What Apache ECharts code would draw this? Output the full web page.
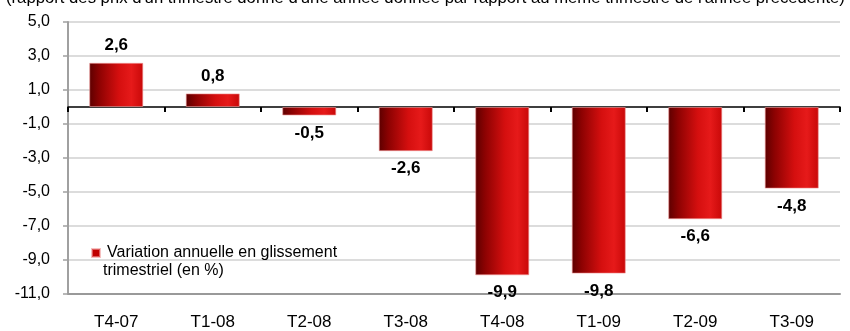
<!DOCTYPE html>
<html>
<head>
<meta charset="utf-8">
<script src="https://cdn.jsdelivr.net/npm/echarts@6/dist/echarts.min.js"></script>
<style>
  html, body { margin: 0; padding: 0; background: #fff; }
  #chart { width: 850px; height: 331px; }
</style>
</head>
<body>
<div id="chart"></div>
<script>
// Quarters and year-on-year price change (%)
const quarters = ['T4-07', 'T1-08', 'T2-08', 'T3-08', 'T4-08', 'T1-09', 'T2-09', 'T3-09'];
const variation = [2.6, 0.8, -0.5, -2.6, -9.9, -9.8, -6.6, -4.8];
const yTicks = [-11, -9, -7, -5, -3, -1, 1, 3, 5];
const seriesName = 'Variation annuelle en glissement trimestriel (en %)';
const legendLine1 = 'Variation annuelle en glissement';
const legendLine2 = 'trimestriel (en %)';
const subtitle = "(rapport des prix d'un trimestre donné d'une année donnée par rapport au même trimestre de l'année précédente)";

const fmt = v => v.toFixed(1).replace('.', ',');
const FONT = 'Liberation Sans, Arial, sans-serif';

const barFill = new echarts.graphic.LinearGradient(0, 0, 1, 0, [
  { offset: 0, color: '#5c0000' },
  { offset: 0.18, color: '#8c0202' },
  { offset: 0.55, color: '#d50f0f' },
  { offset: 0.78, color: '#e61a1a' },
  { offset: 1, color: '#c80808' }
]);

const chart = echarts.init(document.getElementById('chart'));
chart.setOption({
  animation: false,
  textStyle: { fontFamily: FONT },
  title: {
    text: subtitle,
    left: 6,
    top: -10,
    padding: 0,
    textStyle: { fontFamily: FONT, fontSize: 16.7, fontWeight: 'normal', color: '#000' }
  },
  legend: {
    data: [{ name: seriesName, itemStyle: { color: '#c00000' } }],
    left: 91,
    top: 245,
    padding: 0,
    icon: 'rect',
    itemWidth: 8,
    itemHeight: 8,
    itemGap: 0,
    formatter: () => legendLine1,
    textStyle: { fontFamily: FONT, fontSize: 16, color: '#000', padding: [0, 0, 0, 2] }
  },
  graphic: [{
    type: 'text',
    left: 103,
    top: 263,
    style: { text: legendLine2, fontFamily: FONT, fontSize: 16, fill: '#000' }
  }],
  grid: { left: 68, right: 10, top: 22, bottom: 37, containLabel: false },
  xAxis: [
    {
      // zero line with category separators
      type: 'category',
      data: quarters,
      position: 'top',
      axisLine: { onZero: true, lineStyle: { color: '#000', width: 1.5 } },
      axisTick: { show: true, inside: true, length: 5, lineStyle: { color: '#000', width: 2 } },
      axisLabel: { show: false },
      splitLine: { show: false }
    },
    {
      type: 'category',
      data: quarters,
      position: 'bottom',
      axisLine: { onZero: false, lineStyle: { color: '#999', width: 2 } },
      axisTick: { show: false },
      axisLabel: { fontSize: 17, color: '#000', margin: 20, fontFamily: FONT },
      splitLine: { show: false }
    }
  ],
  yAxis: {
    type: 'value',
    min: -11,
    max: 5,
    axisLine: { show: true, lineStyle: { color: '#a0a0a0', width: 2 } },
    axisTick: { show: true, length: 5, customValues: yTicks, lineStyle: { color: '#a0a0a0', width: 1.5 } },
    axisLabel: {
      customValues: yTicks,
      fontSize: 16,
      color: '#000',
      margin: 18,
      fontFamily: FONT,
      formatter: v => fmt(v)
    },
    splitLine: { show: true, lineStyle: { color: '#dcdcdc', width: 2 } }
  },
  series: [{
    name: seriesName,
    type: 'bar',
    xAxisIndex: 0,
    barWidth: '56%',
    itemStyle: { color: barFill, borderColor: 'rgba(240,150,150,0.6)', borderWidth: 1 },
    label: {
      show: true,
      fontSize: 17,
      fontWeight: 'bold',
      color: '#000',
      fontFamily: FONT,
      distance: 9,
      formatter: p => fmt(p.value)
    },
    data: variation.map(v => ({
      value: v,
      label: { position: v >= 0 ? 'top' : 'bottom' }
    }))
  }]
});
</script>
</body>
</html>
